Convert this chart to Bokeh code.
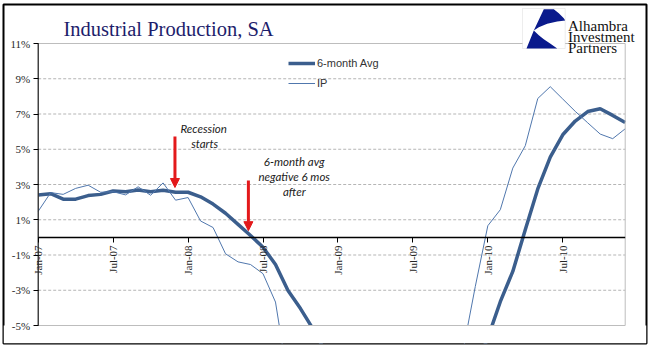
import math
from bokeh.plotting import figure
from bokeh.models import (FixedTicker, Legend, LegendItem, Label, Arrow, NormalHead,
                          BoxAnnotation, PolyAnnotation, Range1d)
from bokeh.embed import file_html
from bokeh.resources import INLINE

# ---------------- data ----------------
months = list(range(48))  # Jan-07 .. Dec-10
avg6 = [2.40, 2.48, 2.17, 2.17, 2.37, 2.44, 2.63, 2.59, 2.69, 2.59, 2.67, 2.56,
        2.56, 2.30, 1.89, 1.37, 0.74, 0.11, -0.56, -1.54, -3.02, -4.04, -5.19, -6.5,
        -7.8, -9.0, -10.3, -11.3, -12.1, -12.7, -12.8, -12.4, -11.6, -10.4, -8.9, -7.4,
        -5.7, -3.65, -1.93, 0.43, 2.75, 4.55, 5.82, 6.60, 7.14, 7.30, 6.92, 6.52]
ip = [1.48, 2.54, 2.44, 2.78, 2.96, 2.56, 2.59, 2.41, 2.87, 2.39, 3.09, 2.11,
      2.26, 0.93, 0.56, -0.93, -1.39, -1.54, -2.06, -3.67, -8.1, -7.0, -8.5, -10.2,
      -11.5, -12.4, -13.5, -13.8, -13.5, -13.1, -12.4, -10.8, -9.6, -7.8, -6.48, -2.78,
      0.66, 1.57, 3.93, 5.20, 7.88, 8.55, 7.85, 7.15, 6.50, 5.86, 5.60, 6.16]
x_tick_pos = [0, 6, 12, 18, 24, 30, 36, 42]
x_tick_labels = ["Jan-07", "Jul-07", "Jan-08", "Jul-08", "Jan-09", "Jul-09", "Jan-10", "Jul-10"]
y_tick_pos = [-5, -3, -1, 1, 3, 5, 7, 9, 11]
y_tick_labels = ["-5%", "-3%", "-1%", "1%", "3%", "5%", "7%", "9%", "11%"]
series_names = ["6-month Avg", "IP"]

# annotations (data coordinates)
arrow1 = dict(x=10.95, y0=5.73, y1=2.83)
arrow2 = dict(x=16.83, y0=3.23, y1=0.38)
note1 = [("Recession", 13.25, 6.18), ("starts", 13.33, 5.33)]
note2 = [("6-month avg", 20.5, 4.31), ("negative 6 mos", 20.5, 3.46), ("after", 20.5, 2.61)]

THICK = "#3b5e8d"
THIN = "#5077ad"
RED = "#e3191b"

# ---------------- layout geometry (image pixels) ----------------
W, H = 643, 339                 # bordered chart area
BX, BY = 3, 4                   # border top-left
PL, PR, PT, PB = 37.7, 624.7, 43.0, 325.0   # plot-area edges
ymin, ymax = y_tick_pos[0], y_tick_pos[-1]
xmin, xmax = months[0], months[-1]
kx = (PR - PL) / (xmax - xmin)
ky = (PB - PT) / (ymax - ymin)
x0 = xmin - (PL - BX) / kx
x1 = x0 + W / kx
y1 = ymax + (PT - BY) / ky
y0 = y1 - H / ky


def sx(px):  # image x -> frame screen x
    return px - BX


def sy(py):  # image y -> frame screen y (from bottom)
    return (BY + H) - py


p = figure(width=BX + W + 3, height=BY + H + 3, x_range=Range1d(x0, x1), y_range=Range1d(y0, y1),
           output_backend="svg", toolbar_location=None,
           min_border_left=BX, min_border_right=3, min_border_top=BY, min_border_bottom=3)
p.background_fill_color = "white"
p.border_fill_color = "white"
p.outline_line_color = "black"
p.outline_line_width = 2
p.xgrid.visible = False
p.ygrid.visible = False

# dashed gridlines inside the plot area
grid_vals = [t for t in y_tick_pos if t not in (ymin, ymax)]
p.multi_line(xs=[[xmin, xmax] for _ in grid_vals], ys=[[g, g] for g in grid_vals],
             line_color="#b5b5b5", line_dash="3 2", line_width=1)

# series
r_avg = p.line(months, avg6, line_width=3.5, line_color=THICK)
r_ip = p.line(months, ip, line_width=1, line_color=THIN)

# white mask below the plot area (clips the series at -5%)
p.quad(left=[x0], right=[x1], bottom=[y0], top=[ymin], fill_color="white", line_color=None)
# plot-area border (light grey)
p.quad(left=[xmin], right=[xmax], bottom=[ymin], top=[ymax], fill_color=None,
       line_color="#bdbdbd", line_width=1)
# axis lines
p.line([xmin, xmax], [0, 0], line_color="black", line_width=1.5)
p.line([xmin, xmin], [ymin, ymax], line_color="black", line_width=1)

# y axis
ya = p.yaxis[0]
ya.fixed_location = xmin
ya.ticker = FixedTicker(ticks=y_tick_pos)
ya.major_label_overrides = {t: l for t, l in zip(y_tick_pos, y_tick_labels)}
ya.axis_line_color = None
ya.major_tick_in = 0
ya.major_tick_out = 5
ya.major_tick_line_color = "black"
ya.minor_tick_line_color = None
ya.major_label_standoff = 3
ya.major_label_text_font = "Liberation Serif"
ya.major_label_text_font_size = "11px"
ya.major_label_text_color = "#262626"

# x axis at zero
xa = p.xaxis[0]
xa.fixed_location = 0
xa.ticker = FixedTicker(ticks=x_tick_pos)
xa.major_label_overrides = {t: l for t, l in zip(x_tick_pos, x_tick_labels)}
xa.major_label_orientation = math.pi / 2
xa.axis_line_color = None
xa.major_tick_in = 0
xa.major_tick_out = 5
xa.major_tick_line_color = "black"
xa.minor_tick_line_color = None
xa.major_label_standoff = 3
xa.major_label_text_font = "Liberation Serif"
xa.major_label_text_font_size = "11px"
xa.major_label_text_color = "#262626"

legend = Legend(items=[LegendItem(label=series_names[0], renderers=[r_avg]),
                       LegendItem(label=series_names[1], renderers=[r_ip])],
                location=(sx(288), sy(93)), orientation="vertical",
                border_line_color=None, background_fill_alpha=0,
                padding=0, margin=0, spacing=0, glyph_width=27, glyph_height=20,
                label_height=20, label_standoff=2,
                label_text_font="Liberation Sans", label_text_font_size="11px",
                label_text_color="#333333")
p.add_layout(legend)

# arrows
for a in (arrow1, arrow2):
    p.add_layout(Arrow(x_start=a["x"], y_start=a["y0"], x_end=a["x"], y_end=a["y1"],
                       line_color=RED, line_width=3,
                       end=NormalHead(size=9, fill_color=RED, line_color=RED, line_width=1)))

for txt, x, y in note1 + note2:
    p.add_layout(Label(x=x, y=y, text=txt, text_align="center", text_baseline="middle",
                       text_font="Lato", text_font_style="italic", text_font_size="11.5px",
                       text_color="#222222"))

# title
p.add_layout(Label(x=sx(63), y=sy(28), x_units="screen", y_units="screen",
                   text="Industrial Production, SA", text_font="Liberation Serif",
                   text_font_size="20.5px", text_color="#1d1d6b", text_baseline="alphabetic"))

# logo
p.add_layout(BoxAnnotation(left=sx(522), right=sx(564.7), top=sy(8), bottom=sy(48),
                           left_units="screen", right_units="screen",
                           top_units="screen", bottom_units="screen",
                           fill_color="white", fill_alpha=1, line_color="#c4c4c4", line_width=1))
upper = [(543.3, 8.7), (553.3, 8.7), (558.3, 12.7), (563.3, 17.7), (564.7, 20),
         (556.7, 21), (546.7, 23.3), (538.3, 26.7), (533.3, 30)]
lower = [(533.3, 30), (526, 48), (556.7, 48), (550, 43.3), (543.3, 38.7), (538.3, 34.7)]
for poly in (upper, lower):
    p.add_layout(PolyAnnotation(xs=[sx(a) for a, b in poly], ys=[sy(b) for a, b in poly],
                                xs_units="screen", ys_units="screen",
                                fill_color="#0a1a8c", fill_alpha=1, line_color=None))
for txt, base in (("Alhambra", 25), ("Investment", 36.3), ("Partners", 47.7)):
    p.add_layout(Label(x=sx(567.5), y=sy(base), x_units="screen", y_units="screen", text=txt,
                       text_font="Liberation Serif", text_font_size="15px",
                       text_color="#111111", text_baseline="alphabetic"))

open("out.html", "w").write(file_html(p, INLINE))
